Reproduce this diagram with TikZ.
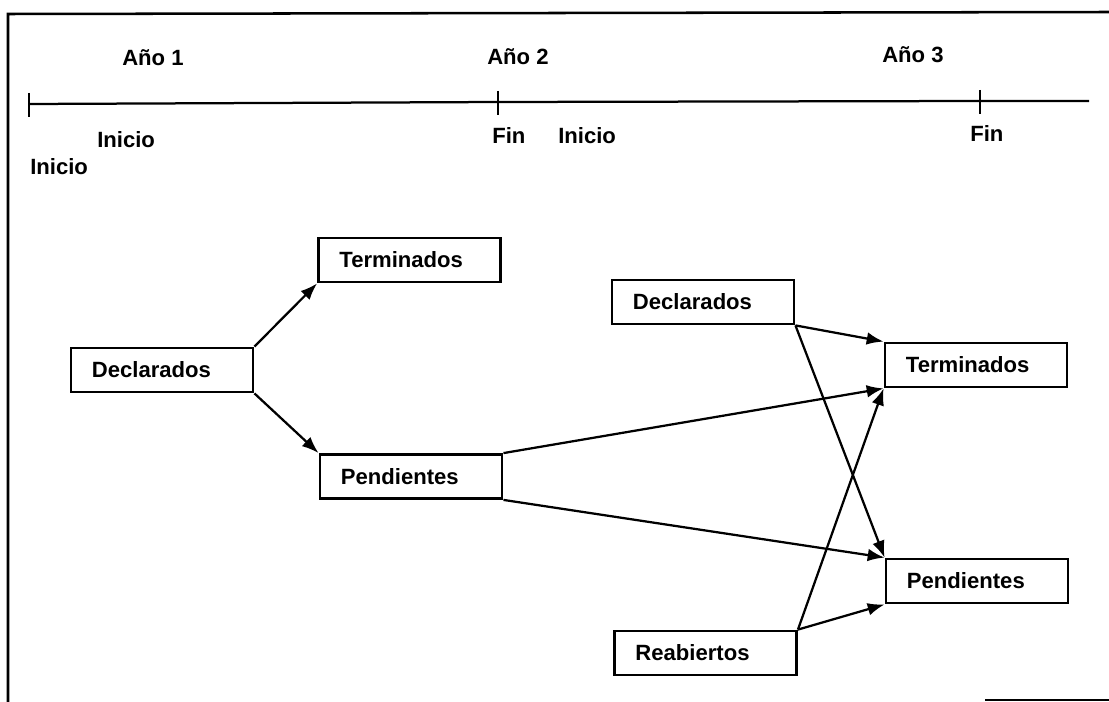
\documentclass[tikz,border=0pt]{standalone}
\usepackage{fontspec}
\setmainfont{Liberation Sans}
\usepackage{tikz}
\usetikzlibrary{arrows.meta}
\usetikzlibrary{positioning}

\tikzset{
	caja/.style={draw,line width=2pt,rectangle,inner xsep=0.525cm,inner ysep=0pt,text width=3.5cm,align=left,minimum height=1.1cm,font=\bfseries\fontsize{15.7}{18}\selectfont},
	etiqueta/.style={inner sep=0pt,anchor=base west,font=\bfseries\fontsize{15.7}{18}\selectfont},
	flecha/.style={line width=1.6pt,-{Latex[length=12pt,width=9pt]}}
}

\begin{document}
\begin{tikzpicture}[x=0.025cm,y=-0.025cm]
	\useasboundingbox (0,0) rectangle (1109,702);
	%marco
	\draw[line width=1.8pt] (1109,12) -- (8,14) -- (8,702);
	\draw[line width=1.8pt] (985,700) -- (1109,700);
	
	%linea de tiempo
	\coordinate (T0) at (29,104);
	\coordinate (T1) at (498,102);
	\coordinate (T2) at (980,101);
	\coordinate (TF) at (1089,101);
	\draw[line width=1.6pt] (T0) -- (T1) -- (T2) -- (TF);
	\draw[line width=1.6pt] (29,93) -- (29,117);
	\draw[line width=1.6pt] (498,91) -- (498,115);
	\draw[line width=1.6pt] (980,90) -- (980,114);
	
	\node[etiqueta] (A1) at (122,66) {Año 1};
	\node[etiqueta] (A2) at (487,65) {Año 2};
	\node[etiqueta] (A3) at (882,63) {Año 3};
	\node[etiqueta] (I1) at (97,147) {Inicio};
	\node[etiqueta] (I0) at (30,175) {Inicio};
	\node[etiqueta] (F1) at (492,144) {Fin};
	\node[etiqueta] (I2) at (558,144) {Inicio};
	\node[etiqueta] (F2) at (970,142) {Fin};
	
	%año 1
	\node[caja] (Decl1) at (162,370) {Declarados};
	\node[caja] (Term1) at (409.5,260) {Terminados};
	\node[caja] (Pend1) at (411,476.5) {Pendientes};
	\draw[flecha] (Decl1.north east) -- (Term1.south west);
	\draw[flecha] (Decl1.south east) -- (Pend1.north west);
	
	%año 2
	\node[caja] (Decl2) at (703,302) {Declarados};
	\node[caja] (Reab) at (705.5,653) {Reabiertos};
	\node[caja] (Term2) at (976,365) {Terminados};
	\node[caja] (Pend2) at (977,581) {Pendientes};
	\draw[flecha] (Pend1.north east) -- (Term2.south west);
	\draw[flecha] (Pend1.south east) -- (Pend2.north west);
	\draw[flecha] (Decl2.south east) -- (Term2.north west);
	\draw[flecha] (Decl2.south east) -- (Pend2.north west);
	\draw[flecha] (Reab.north east) -- (Term2.south west);
	\draw[flecha] (Reab.north east) -- (Pend2.south west);
\end{tikzpicture}
\end{document}
